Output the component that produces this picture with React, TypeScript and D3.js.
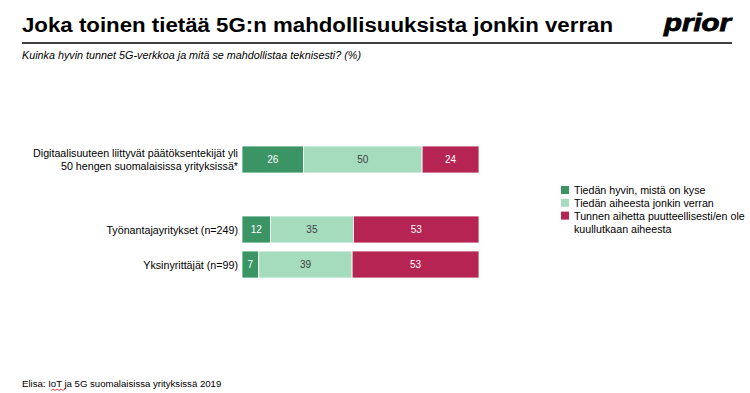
import React from "react";
import * as d3 from "d3";

const categories = [
  "Digitaalisuuteen liittyvät päätöksentekijät yli\n50 hengen suomalaisissa yrityksissä*",
  "",
  "Työnantajayritykset (n=249)",
  "Yksinyrittäjät (n=99)",
];
const seriesNames = [
  "Tiedän hyvin, mistä on kyse",
  "Tiedän aiheesta jonkin verran",
  "Tunnen aihetta puutteellisesti/en ole\nkuullutkaan aiheesta",
];
const knowWell = [26, null, 12, 7];
const knowSome = [50, null, 35, 39];
const knowPoor = [24, null, 53, 53];
const colors = ["#3b9464", "#a5dcbe", "#b52452"];
const labelColors = ["#ffffff", "#404040", "#ffffff"];

const W = 750;
const H = 393;
const FONT = "Arial, 'Liberation Sans', sans-serif";

export default function App() {
  const x = d3.scaleLinear().domain([0, 1]).range([242, 479]);
  const y = d3
    .scaleBand<number>()
    .domain(d3.range(categories.length))
    .range([142, 282])
    .paddingInner(0.2286)
    .paddingOuter(0.1143);
  const series = [knowWell, knowSome, knowPoor];
  const rows = categories.map((c, i) => ({
    name: c,
    vals: series.map((s) => s[i]),
  }));

  return (
    <svg
      width={W}
      height={H}
      style={{ position: "absolute", left: 0, top: 0, background: "#fff" }}
      fontFamily={FONT}
    >
      <rect width={W} height={H} fill="#fff" />
      <text
        x={22}
        y={32}
        fontSize={20}
        fontWeight="bold"
        fill="#000"
        textLength={591}
        lengthAdjust="spacingAndGlyphs"
      >
        Joka toinen tietää 5G:n mahdollisuuksista jonkin verran
      </text>
      <text
        x={664}
        y={31}
        fontSize={23}
        fontWeight={900}
        fontStyle="italic"
        fill="#000"
        textLength={67}
        lengthAdjust="spacingAndGlyphs"
        stroke="#000"
        strokeWidth={0.8}
      >
        prior
      </text>
      <line x1={22} x2={732} y1={43} y2={43} stroke="#000" strokeWidth={1.5} />
      <text
        x={22}
        y={59}
        fontSize={10}
        fontStyle="italic"
        fill="#000"
        textLength={339}
        lengthAdjust="spacingAndGlyphs"
      >
        Kuinka hyvin tunnet 5G-verkkoa ja mitä se mahdollistaa teknisesti? (%)
      </text>

      {rows.map((r, i) => {
        if (r.vals[0] == null) return null;
        const y0 = y(i)!;
        const bh = y.bandwidth();
        const total = d3.sum(r.vals as number[]);
        let cum = 0;
        const lines = r.name.split("\n");
        return (
          <g key={i}>
            {r.vals.map((v, j) => {
              const start = cum;
              cum += v as number;
              const x0 = x(start / total);
              const x1 = x(cum / total);
              return (
                <g key={j}>
                  <rect
                    x={x0}
                    y={y0}
                    width={x1 - x0}
                    height={bh}
                    fill={colors[j]}
                    stroke="#fff"
                    strokeWidth={0.8}
                  />
                  <text
                    x={(x0 + x1) / 2}
                    y={y0 + bh / 2 + 3.5}
                    fontSize={10}
                    textAnchor="middle"
                    fill={labelColors[j]}
                  >
                    {v}
                  </text>
                </g>
              );
            })}
            {lines.map((ln, k) => (
              <text
                key={k}
                x={238}
                y={y0 + bh / 2 + 4 + (k - (lines.length - 1) / 2) * 12.5}
                fontSize={10.7}
                textAnchor="end"
                fill="#000"
              >
                {ln}
              </text>
            ))}
          </g>
        );
      })}

      {seriesNames.map((s, i) => {
        const ly = 186 + i * 12.8;
        const lines = s.split("\n");
        return (
          <g key={i}>
            <rect x={561} y={ly} width={8} height={8} fill={colors[i]} />
            {lines.map((ln, k) => (
              <text key={k} x={574} y={ly + 8 + k * 13} fontSize={10.7} fill="#000">
                {ln}
              </text>
            ))}
          </g>
        );
      })}

      <text x={22} y={387} fontSize={9.6} fill="#000">
        Elisa: IoT ja 5G suomalaisissa yrityksissä 2019
      </text>
      <path
        d={d3.range(0, 8).map((k) => `${k === 0 ? "M" : "L"}${51 + k * 2},${k % 2 ? 389 : 390.5}`).join(" ")}
        stroke="#e02020"
        strokeWidth={0.8}
        fill="none"
      />
    </svg>
  );
}
